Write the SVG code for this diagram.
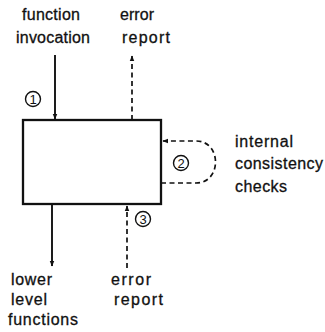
<svg xmlns="http://www.w3.org/2000/svg" width="325" height="332" viewBox="0 0 325 332">
  <style>
    .lbl { font-family: "Liberation Sans", Arial, sans-serif; font-size: 16px; fill: #111; stroke: #111; stroke-width: 0.3; }
    .num { font-family: "Liberation Sans", Arial, sans-serif; font-size: 13px; fill: #111; text-anchor: middle; }
    .ring { fill: none; stroke: #111; stroke-width: 1.4; }
    .solid { fill: none; stroke: #111; stroke-width: 1.9; }
    .dash { fill: none; stroke: #111; stroke-width: 1.7; stroke-dasharray: 5 3.5; }
  </style>
  <defs>
    <marker id="head" viewBox="0 0 10 10" refX="9" refY="5" markerWidth="6" markerHeight="6" markerUnits="userSpaceOnUse" orient="auto">
      <path d="M0,1 L10,5 L0,9 Z" fill="#111"/>
    </marker>
  </defs>

  <rect width="325" height="332" fill="#fff"/>

  <!-- the function itself -->
  <g id="function-box">
    <rect x="23" y="120" width="138" height="84" fill="none" stroke="#111" stroke-width="2.3"/>
  </g>

  <!-- connectors -->
  <g id="connectors">
    <!-- 1: invocation coming in from above -->
    <path class="solid" d="M55,55 L55,119" marker-end="url(#head)"/>
    <!-- error report going back up -->
    <path class="dash" d="M132,120 L132,56" marker-end="url(#head)"/>
    <!-- 2: internal consistency loop -->
    <path class="dash" d="M161,183 L196,183 C222,183 222,141 196,141 L163,141" marker-end="url(#head)"/>
    <!-- calls to lower level functions -->
    <path class="solid" d="M52,204 L52,266" marker-end="url(#head)"/>
    <!-- 3: error report returned from below -->
    <path class="dash" d="M127,268 L127,206" marker-end="url(#head)"/>
  </g>

  <g id="label-1">
    <circle class="ring" cx="33" cy="99" r="7.5"/>
    <text class="num" x="33" y="103.5">1</text>
  </g>
  <g id="label-2">
    <circle class="ring" cx="181" cy="163" r="7.5"/>
    <text class="num" x="181" y="167.5">2</text>
  </g>
  <g id="label-3">
    <circle class="ring" cx="143" cy="219" r="7.5"/>
    <text class="num" x="143" y="223.5">3</text>
  </g>

  <g id="text-invocation">
    <text class="lbl" x="22" y="20" textLength="58" lengthAdjust="spacing">function</text>
    <text class="lbl" x="16" y="43" textLength="74" lengthAdjust="spacing">invocation</text>
  </g>
  <g id="text-error-up">
    <text class="lbl" x="120" y="20" textLength="34" lengthAdjust="spacing">error</text>
    <text class="lbl" x="122" y="43" textLength="48" lengthAdjust="spacing">report</text>
  </g>
  <g id="text-consistency">
    <text class="lbl" x="235" y="147" textLength="58" lengthAdjust="spacing">internal</text>
    <text class="lbl" x="235" y="169" textLength="88" lengthAdjust="spacing">consistency</text>
    <text class="lbl" x="235" y="192" textLength="52" lengthAdjust="spacing">checks</text>
  </g>
  <g id="text-lower">
    <text class="lbl" x="11" y="285" textLength="41" lengthAdjust="spacing">lower</text>
    <text class="lbl" x="11" y="305" textLength="36" lengthAdjust="spacing">level</text>
    <text class="lbl" x="8" y="325" textLength="70" lengthAdjust="spacing">functions</text>
  </g>
  <g id="text-error-down">
    <text class="lbl" x="111" y="285" textLength="40" lengthAdjust="spacing">error</text>
    <text class="lbl" x="114" y="305" textLength="49" lengthAdjust="spacing">report</text>
  </g>
</svg>
